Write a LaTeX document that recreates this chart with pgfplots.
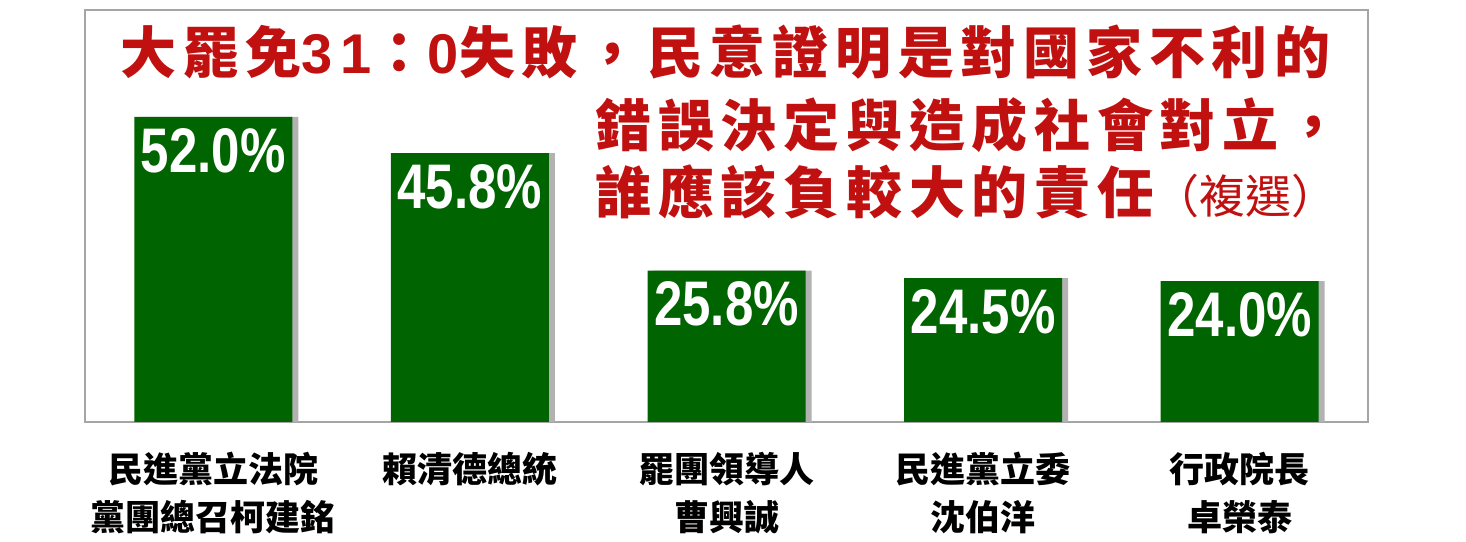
\documentclass[border=0pt]{standalone}
\usepackage{fontspec}
\setmainfont{Liberation Sans}
\newfontfamily\cjk{Noto Sans CJK TC}
\newfontfamily\titlecjk[LetterSpace=12]{Noto Sans CJK TC}
\newfontfamily\titlenum[LetterSpace=14]{Liberation Sans}
\newfontfamily\valfont[FakeStretch=0.81]{Liberation Sans}
\usepackage{pgfplots}
\pgfplotsset{compat=1.18}

\definecolor{bargreen}{RGB}{0,100,0}
\definecolor{titlered}{RGB}{192,16,16}
\definecolor{framegray}{RGB}{165,165,165}

\begin{document}
\begin{tikzpicture}
\begin{axis}[
  at={(0,0)}, anchor=south west,
  scale only axis, width=641.5pt, height=206pt,
  xmin=-0.5, xmax=4.5, ymin=0, ymax=70.2,
  ybar, bar width=79pt,
  axis line style={framegray, line width=0.9pt},
  ytick=\empty, xtick={0,1,2,3,4}, major tick length=0pt,
  xticklabels={民進黨立法院\\黨團總召柯建銘, 賴清德總統, 罷團領導人\\曹興誠, 民進黨立委\\沈伯洋, 行政院長\\卓榮泰},
  xticklabel style={font=\cjk\bfseries\fontsize{17.5pt}{24pt}\selectfont, align=center, inner sep=0pt, yshift=-15pt},
]
\addplot[draw=none, fill=black!30, bar shift=3pt] coordinates {(0,52.0) (1,45.8) (2,25.8) (3,24.5) (4,24.0)};
\addplot[draw=none, fill=bargreen, bar shift=0pt,
  nodes near coords={\pgfmathprintnumber[fixed,fixed zerofill,precision=1,assume math mode=true]{\pgfplotspointmeta}\%},
  every node near coord/.append style={font=\valfont\bfseries\fontsize{31.5pt}{32pt}\selectfont, text=white, anchor=north, inner sep=0pt, yshift=-5.5pt}]
  coordinates {(0,52.0) (1,45.8) (2,25.8) (3,24.5) (4,24.0)};
\end{axis}
\node[anchor=west, inner sep=0pt, text=titlered, font=\fontsize{28pt}{30pt}\selectfont\bfseries] at ([shift={(17.5pt,185pt)}]current axis.south west)
  {{\titlecjk 大罷免}{\titlenum 31}{\titlecjk ：}{\titlenum 0}{\titlecjk 失敗，民意證明是對國家不利的}};
\node[anchor=west, inner sep=0pt, text=titlered, font=\fontsize{28pt}{30pt}\selectfont\bfseries] at ([shift={(255pt,148.5pt)}]current axis.south west)
  {\titlecjk 錯誤決定與造成社會對立，};
\node[anchor=west, inner sep=0pt, text=titlered, font=\fontsize{28pt}{30pt}\selectfont\bfseries] at ([shift={(255pt,115pt)}]current axis.south west)
  {\titlecjk 誰應該負較大的責任{\cjk\mdseries\fontsize{23pt}{24pt}\selectfont （複選）}};
\pgfresetboundingbox
\path ([shift={(-42.5pt,-60pt)}]current axis.south west) rectangle ([shift={(49pt,5pt)}]current axis.north east);
\end{tikzpicture}
\end{document}
